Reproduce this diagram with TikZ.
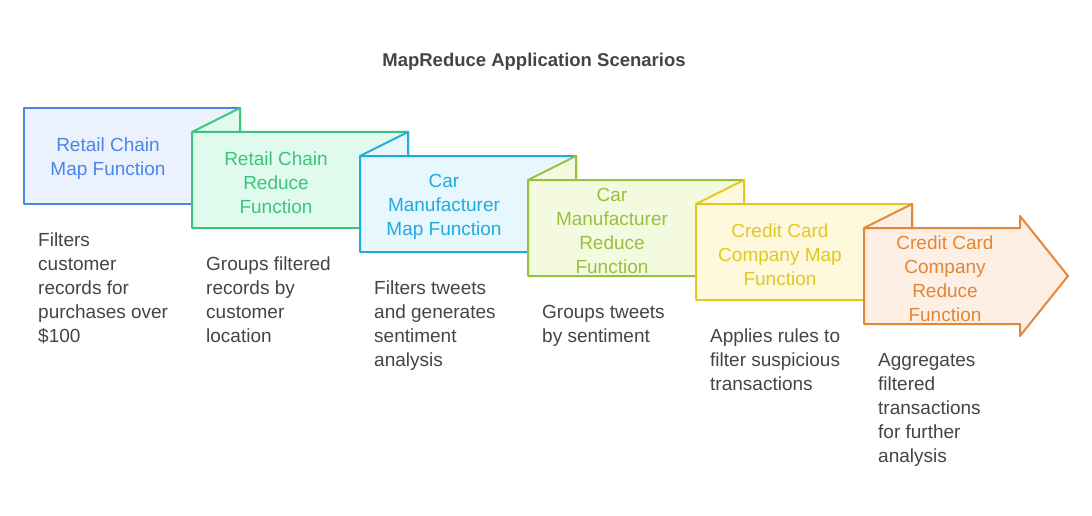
\documentclass[tikz,border=0pt]{standalone}
\usepackage{fontspec}
\setmainfont{Liberation Sans}
\definecolor{mrblue}{RGB}{74,134,232}
\definecolor{mrbluebg}{RGB}{235,242,254}
\definecolor{mrgreen}{RGB}{60,196,124}
\definecolor{mrgreenbg}{RGB}{224,250,238}
\definecolor{mrcyan}{RGB}{34,170,221}
\definecolor{mrcyanbg}{RGB}{230,247,253}
\definecolor{mrlime}{RGB}{153,192,60}
\definecolor{mrlimebg}{RGB}{243,250,223}
\definecolor{mryellow}{RGB}{226,200,30}
\definecolor{mryellowbg}{RGB}{254,249,220}
\definecolor{mrorange}{RGB}{226,134,56}
\definecolor{mrorangebg}{RGB}{253,239,228}
\definecolor{mrtext}{RGB}{68,68,68}
\usetikzlibrary{positioning}

\begin{document}
\begin{tikzpicture}[x=1pt, y=-1pt,
  panel/.style={line width=2pt, line join=round},
  lbl/.style={align=center, font=\fontsize{19}{24}\selectfont, inner sep=0pt},
  desc/.style={align=left, anchor=north west, font=\fontsize{19}{24}\selectfont, text=mrtext, inner sep=0pt},
]
  \useasboundingbox (0,0) rectangle (1092,516);

  \node[font=\bfseries\fontsize{18.5}{22}\selectfont, text=mrtext] (title) at (534,62) {MapReduce Application Scenarios};

  % retail chain
  \draw[panel, draw=mrblue, fill=mrbluebg] (24,108) rectangle (240,204);
  \node[lbl, text=mrblue] (rcmap) at (108,159) {Retail Chain\\Map Function};
  \node[desc] (rcmapd) at (38,233) {Filters\\customer\\records for\\purchases over\\\$100};

  \draw[panel, draw=mrgreen, fill=mrgreenbg] (192,132) rectangle (408,228) (192,132) -- (240,108) -- (240,132) -- cycle;
  \node[lbl, text=mrgreen] (rcred) at (276,183) {Retail Chain\\Reduce\\Function};
  \node[desc] (rcredd) at (206,257) {Groups filtered\\records by\\customer\\location};

  % car manufacturer
  \draw[panel, draw=mrcyan, fill=mrcyanbg] (360,156) rectangle (576,252) (360,156) -- (408,132) -- (408,156) -- cycle;
  \node[lbl, text=mrcyan] (cmmap) at (444,207) {Car\\Manufacturer\\Map Function};
  \node[desc] (cmmapd) at (374,281) {Filters tweets\\and generates\\sentiment\\analysis};

  \draw[panel, draw=mrlime, fill=mrlimebg] (528,180) rectangle (744,276) (528,180) -- (576,156) -- (576,180) -- cycle;
  \node[lbl, text=mrlime] (cmred) at (612,231) {Car\\Manufacturer\\Reduce\\Function};
  \node[desc] (cmredd) at (542,305) {Groups tweets\\by sentiment};

  % credit card company
  \draw[panel, draw=mryellow, fill=mryellowbg] (696,204) rectangle (912,300) (696,204) -- (744,180) -- (744,204) -- cycle;
  \node[lbl, text=mryellow] (ccmap) at (780,255) {Credit Card\\Company Map\\Function};
  \node[desc] (ccmapd) at (710,329) {Applies rules to\\filter suspicious\\transactions};

  \draw[panel, draw=mrorange, fill=mrorangebg] (864,228) -- (1020,228) -- (1020,216) -- (1068,276) -- (1020,336) -- (1020,324) -- (864,324) -- cycle
    (864,228) -- (912,204) -- (912,228) -- cycle;
  \node[lbl, text=mrorange] (ccred) at (945,279) {Credit Card\\Company\\Reduce\\Function};
  \node[desc] (ccredd) at (878,353) {Aggregates\\filtered\\transactions\\for further\\analysis};
\end{tikzpicture}
\end{document}
